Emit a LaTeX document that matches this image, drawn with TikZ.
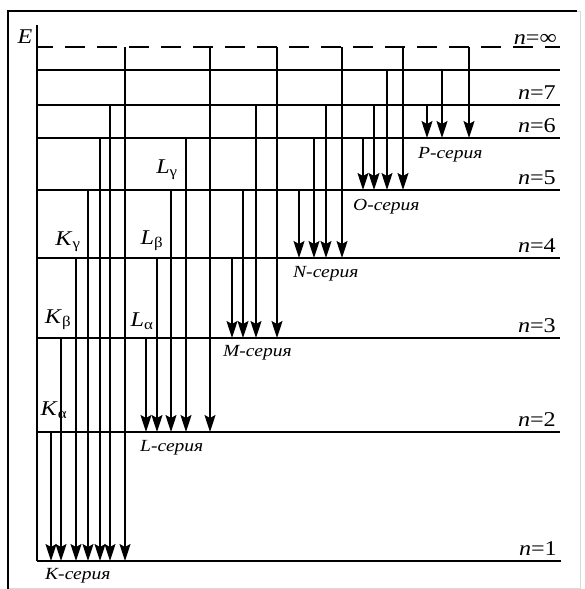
\documentclass[tikz,border=0pt]{standalone}
\usepackage{fontspec}
\setmainfont{Liberation Serif}[FakeStretch=1.15]
\usetikzlibrary{arrows.meta}

\begin{document}
\begin{tikzpicture}[x=1pt,y=-1pt,>={Stealth[length=17pt,width=11pt,inset=3pt]}]
 \tikzstyle{level}=[line width=1.3pt]
 \tikzstyle{jump}=[->,line width=1.4pt]
 \tikzstyle{nlabel}=[anchor=base east,inner sep=0pt,font=\fontsize{21}{24}\selectfont]
 \tikzstyle{line label}=[inner sep=0pt,font=\fontsize{21}{24}\selectfont]
 \tikzstyle{series}=[anchor=west,inner sep=0pt,font=\fontsize{17}{20}\selectfont\itshape]

 \useasboundingbox (0,0) rectangle (584,589);
 % frame
 \draw[black!15,line width=1pt] (8,11) rectangle (580,588);
 \draw[line width=2.5pt] (8,589) -- (8,11) -- (577,11);

 % axis
 \coordinate (base) at (37,561);
 \coordinate (top) at (37,25);
 \draw[line width=2pt] (base) -- (top);
 \node[line label,font=\fontsize{21}{24}\selectfont\itshape] (E) at (25,37) {E};

 % levels
 \foreach \lev/\y in {n8/70, n7/105, n6/138, n5/190, n4/258, n3/338, n2/432}{
   \coordinate (\lev) at (37,\y);
   \coordinate (e\lev) at (560,\y);
   \draw[level] (\lev) -- (e\lev);
 }
 \coordinate (n1) at (37,561);
 \coordinate (en1) at (561,561);
 \draw[line width=2pt] (n1) -- (en1);
 \coordinate (ninf) at (37,47);
 \coordinate (eninf) at (560,47);
 \draw[line width=1.6pt,dash pattern=on 20pt off 12pt,dash phase=4pt] (ninf) -- (eninf);

 \node[nlabel] (tinf) at ([xshift=-3pt,yshift=3pt]eninf) {\textit{n}=∞};
 \foreach \lev/\t in {n7/7, n6/6, n5/5, n4/4, n3/3, n2/2, n1/1}
   \node[nlabel] (t\lev) at ([xshift=-4pt,yshift=6pt]e\lev) {\textit{n}=\t};

 % transitions
 \foreach \x/\a/\b in {51/n2/n1, 61/n3/n1, 76/n4/n1, 88/n5/n1, 100/n6/n1, 110/n7/n1, 125/ninf/n1,
                       146/n3/n2, 157/n4/n2, 171/n5/n2, 186/n6/n2, 210/ninf/n2,
                       232/n4/n3, 243/n5/n3, 256/n7/n3, 277/ninf/n3,
                       299/n5/n4, 314/n6/n4, 326/n7/n4, 342/ninf/n4,
                       363/n6/n5, 374/n7/n5, 387/n8/n5, 403/ninf/n5,
                       427/n7/n6, 442/n8/n6, 469/ninf/n6}
   \draw[jump] (\x,0 |- \a) -- (\x,0 |- \b);

 % line names
 \node[line label] (Ka) at (54,410) {\textit{K}\textsubscript{α}};
 \node[line label] (Kb) at (58,320) {\textit{K}\textsubscript{β}};
 \node[line label] (Kg) at (68,242) {\textit{K}\textsubscript{γ}};
 \node[line label] (La) at (142,321) {\textit{L}\textsubscript{α}};
 \node[line label] (Lb) at (152,241) {\textit{L}\textsubscript{β}};
 \node[line label] (Lg) at (167,170) {\textit{L}\textsubscript{γ}};

 % series
 \node[series] (K) at (45,576) {K-серия};
 \node[series] (L) at (140,448) {L-серия};
 \node[series] (M) at (223,353) {M-серия};
 \node[series] (N) at (293,274) {N-серия};
 \node[series] (O) at (353,207) {O-серия};
 \node[series] (P) at (418,155) {P-серия};
\end{tikzpicture}
\end{document}
